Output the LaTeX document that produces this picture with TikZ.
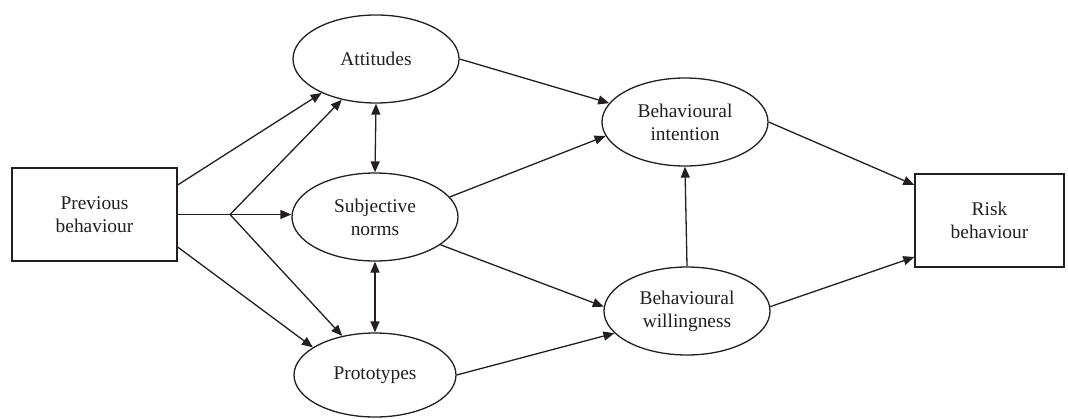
\documentclass[tikz,border=0pt]{standalone}
\usepackage{fontspec}
\setmainfont{Liberation Serif}
\usetikzlibrary{shapes.geometric,arrows.meta}
\definecolor{ink}{HTML}{231F20}
\begin{document}
\begin{tikzpicture}[x=1pt,y=-1pt,
  every node/.style={font=\fontsize{19.4}{23}\selectfont, text=ink, align=center, inner sep=0pt},
  ell/.style={draw=ink, line width=1.3pt, ellipse, minimum width=166pt, minimum height=88pt},
  boxnode/.style={draw=ink, line width=1.3pt, rectangle, minimum width=165pt, minimum height=93pt},
  arr/.style={draw=ink, line width=1.3pt, -{Triangle[length=11pt,width=9pt]}},
  darr/.style={draw=ink, line width=1.3pt, {Triangle[length=11pt,width=9pt]}-{Triangle[length=11pt,width=9pt]}},
  ln/.style={draw=ink, line width=1.3pt}]
\useasboundingbox (0,0) rectangle (1068,418);
\node[boxnode] (prev) at (94.5,214.5) {Previous\\behaviour};
\node[ell] (att) at (376,59) {Attitudes};
\node[ell] (subj) at (375,217) {Subjective\\norms};
\node[ell, minimum width=162pt, minimum height=84pt] (proto) at (375,375) {Prototypes};
\node[ell] (int) at (685,122) {Behavioural\\intention};
\node[ell] (will) at (687,311) {Behavioural\\willingness};
\node[boxnode, minimum width=149pt] (risk) at (989.5,220.5) {Risk\\behaviour};
\coordinate (branch) at (230,214.5);
% previous behaviour
\draw[arr] ([yshift=29.5pt]prev.east) -- (att.212);
\draw[ln] (prev.east) -- (branch);
\draw[arr] (branch) -- (branch -| subj.west);
\draw[arr] (branch) -- (att.230);
\draw[arr] (branch) -- (proto.130);
\draw[arr] ([yshift=-32.5pt]prev.east) -- (proto.156);
% reciprocal
\draw[darr] (att.south) -- (subj.north);
\draw[darr] (subj.south) -- (proto.north);
% to intention / willingness
\draw[arr] (att.east) -- (int.166);
\draw[arr] (subj.15) -- (int.190);
\draw[arr] (subj.-23) -- (will.177);
\draw[arr] (proto.east) -- (will.197);
\draw[arr] (will.north) -- (int.south);
% to risk
\draw[arr] (int.east) -- ([yshift=35.5pt]risk.west);
\draw[arr] (will.3) -- ([yshift=-36.5pt]risk.west);
\end{tikzpicture}
\end{document}
